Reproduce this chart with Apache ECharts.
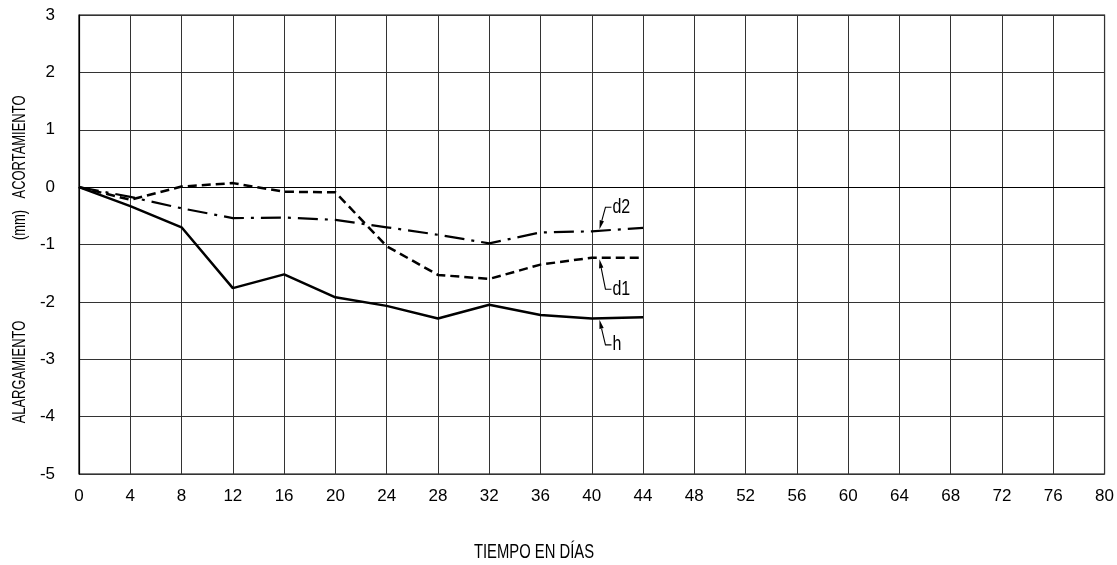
<!DOCTYPE html>
<html>
<head>
<meta charset="utf-8">
<script src="https://cdn.jsdelivr.net/npm/echarts@6/dist/echarts.min.js"></script>
<style>
html,body{margin:0;padding:0;background:#fff;}
#c{width:1117px;height:565px;}
</style>
</head>
<body>
<div id="c"></div>
<script>
const days = [0, 4, 8, 12, 16, 20, 24, 28, 32, 36, 40, 44];
const hValues  = [0, -0.33, -0.70, -1.76, -1.52, -1.92, -2.07, -2.29, -2.05, -2.23, -2.29, -2.27];
const d1Values = [0, -0.22, 0.01, 0.07, -0.08, -0.09, -1.03, -1.53, -1.60, -1.35, -1.23, -1.23];
const d2Values = [0, -0.17, -0.37, -0.54, -0.53, -0.57, -0.70, -0.83, -0.98, -0.79, -0.77, -0.71];
const seriesNames = ['h', 'd1', 'd2'];
const xTitle = 'TIEMPO EN DÍAS';
const yTitleTop = 'ACORTAMIENTO';
const yTitleMid = '(mm)';
const yTitleBottom = 'ALARGAMIENTO';
const labelDay = 40.6;

const FONT = '"Liberation Sans", Arial, sans-serif';

const chart = echarts.init(document.getElementById('c'), null, {renderer: 'canvas'});

function pairs(vals){ return days.map((d,i)=>[d, vals[i]]); }

const option = {
  animation: false,
  backgroundColor: '#fff',
  grid: {left: 79, right: 12, top: 15, bottom: 91, show: true, borderColor: '#000', borderWidth: 1.2},
  xAxis: {
    type: 'value', min: 0, max: 80, interval: 4,
    axisLine: {show: true, lineStyle: {color: '#000', width: 1.2}},
    axisTick: {show: false},
    axisLabel: {color: '#000', fontFamily: FONT, fontSize: 17, margin: 14},
    splitLine: {show: true, lineStyle: {color: '#333', width: 1}}
  },
  yAxis: {
    type: 'value', min: -5, max: 3, interval: 1,
    axisLine: {show: true, lineStyle: {color: '#000', width: 1.2}},
    axisTick: {show: false},
    axisLabel: {color: '#000', fontFamily: FONT, fontSize: 17, margin: 24},
    splitLine: {show: true, lineStyle: {color: '#333', width: 1}}
  },
  series: [
    {name: seriesNames[0], type: 'line', data: pairs(hValues), symbol: 'none',
     lineStyle: {color: '#000', width: 2.5, type: 'solid'}},
    {name: seriesNames[1], type: 'line', data: pairs(d1Values), symbol: 'none',
     lineStyle: {color: '#000', width: 2.5, type: [9, 5]}},
    {name: seriesNames[2], type: 'line', data: pairs(d2Values), symbol: 'none',
     lineStyle: {color: '#000', width: 2.2, type: [20, 7, 3, 7]}}
  ]
};
chart.setOption(option);

function interp(vals, x){
  for (let i=0;i<days.length-1;i++){
    if (x>=days[i] && x<=days[i+1]){
      const t=(x-days[i])/(days[i+1]-days[i]);
      return vals[i]+t*(vals[i+1]-vals[i]);
    }
  }
  return vals[vals.length-1];
}

function leader(name, vals, dx, dy){
  const p = chart.convertToPixel({gridIndex:0}, [labelDay, interp(vals, labelDay)]);
  const ax = p[0], ay = p[1] + (dy < 0 ? -1.5 : 1.5);
  const bx = ax + dx, by = ay + dy;
  const ex = bx + 6;
  const ang = Math.atan2(ay - by, ax - bx);
  const L = 9, W = 2.2;
  const hx = ax - L*Math.cos(ang), hy = ay - L*Math.sin(ang);
  const nx = -Math.sin(ang)*W, ny = Math.cos(ang)*W;
  return [
    {type:'polyline', shape:{points:[[hx,hy],[bx,by],[ex,by]]}, style:{stroke:'#000', lineWidth:1.1, fill:null}, silent:true},
    {type:'polygon', shape:{points:[[ax,ay],[hx+nx,hy+ny],[hx-nx,hy-ny]]}, style:{fill:'#000'}, silent:true},
    {type:'text', x: ex + 1, y: by, scaleX: 0.8, style:{text:name, font:'20px '+FONT, fill:'#000', textVerticalAlign:'middle', textAlign:'left'}, silent:true}
  ];
}

const g = [];
g.push(...leader(seriesNames[2], d2Values, 6, -22));
g.push(...leader(seriesNames[1], d1Values, 6, 30));
g.push(...leader(seriesNames[0], hValues, 6, 25));

g.push({type:'text', x: 534, y: 552, scaleX: 0.74, style:{text:xTitle, font:'20px '+FONT, fill:'#000', textAlign:'center', textVerticalAlign:'middle'}});
const ytx = 20;
const ySty = t => ({text:t, font:'18px '+FONT, fill:'#000', textAlign:'center', textVerticalAlign:'middle'});
g.push({type:'text', x: ytx, y: 147, rotation: Math.PI/2, scaleX: 0.72, style: ySty(yTitleTop)});
g.push({type:'text', x: ytx, y: 225, rotation: Math.PI/2, scaleX: 0.72, style: ySty(yTitleMid)});
g.push({type:'text', x: ytx, y: 372, rotation: Math.PI/2, scaleX: 0.72, style: ySty(yTitleBottom)});

chart.setOption({graphic: g});
</script>
</body>
</html>
